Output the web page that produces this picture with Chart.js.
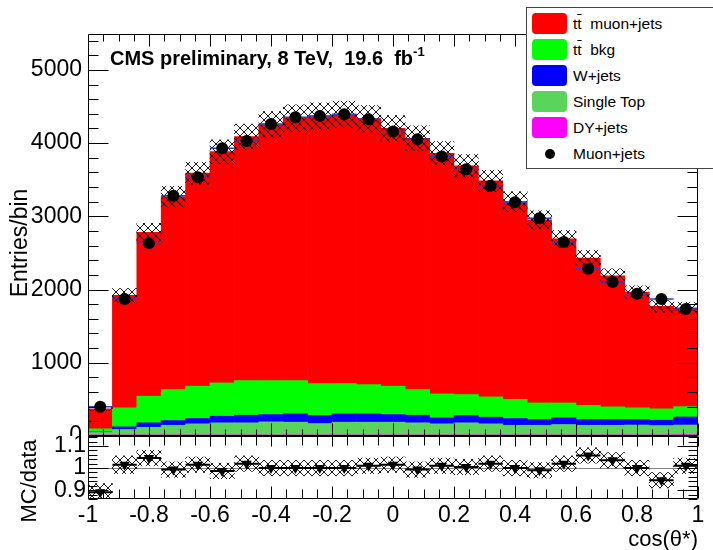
<!DOCTYPE html>
<html>
<head>
  <title>cos(theta*) muon+jets</title>
  <script src="https://cdn.jsdelivr.net/npm/chart.js"></script>
  <style>
    body { margin: 0; background: #fff; font-family: 'Liberation Sans', Arial, sans-serif; }
    #wrap { position: relative; width: 713px; height: 550px; overflow: hidden; background: #fff; }
    canvas { position: absolute; left: 0; }
    #top { top: 0; }
    #bot { top: 436px; background: #fff; }
    .txt { position: absolute; white-space: pre; color: #000; }
    .rot { transform: translate(-50%, -50%) rotate(-90deg); }
    #cms { left: 110px; top: 48px; font: bold 20px/20px 'Liberation Sans', Arial, sans-serif; }
    #cms sup { font-size: 13px; vertical-align: 9px; line-height: 0; }
    #ytitle { left: 19px; top: 243px; font: 23px/23px 'Liberation Sans', Arial, sans-serif; }
    #rtitle { left: 29px; top: 481px; font: 22px/22px 'Liberation Sans', Arial, sans-serif; }
    #xtitle { right: 15px; top: 528px; font: 22px/22px 'Liberation Sans', Arial, sans-serif; }
    #legend { position: absolute; left: 526px; top: 7px; width: 200px; height: 160px; border: 1px solid #444; background: #fff; }
    .row { position: absolute; left: 46px; height: 18px; font: 15.5px/18px 'Liberation Sans', Arial, sans-serif; white-space: pre; }
    .sw { position: absolute; left: -41px; top: -2px; width: 35px; height: 21px; border-radius: 4px; }
    .dot { position: absolute; left: -28px; top: 4px; width: 10px; height: 10px; border-radius: 50%; background: #000; }
    .ov { text-decoration: overline; }
  </style>
</head>
<body>
<div id="wrap">
  <canvas id="top" width="713" height="437"></canvas>
  <canvas id="bot" width="713" height="114"></canvas>
  <div class="txt" id="cms">CMS preliminary, 8 TeV,  19.6  fb<sup>-1</sup></div>
  <div class="txt rot" id="ytitle">Entries/bin</div>
  <div class="txt rot" id="rtitle">MC/data</div>
  <div class="txt" id="xtitle">cos(θ*)</div>
  <div id="legend">
    <div class="row" style="top:7px"><span class="sw" style="background:#ff0000"></span>t<span class="ov">t</span>  muon+jets</div>
    <div class="row" style="top:33px"><span class="sw" style="background:#00ff00"></span>t<span class="ov">t</span>  bkg</div>
    <div class="row" style="top:59px"><span class="sw" style="background:#0000ff"></span>W+jets</div>
    <div class="row" style="top:85px"><span class="sw" style="background:#5bd45b"></span>Single Top</div>
    <div class="row" style="top:111px"><span class="sw" style="background:#ff00ff"></span>DY+jets</div>
    <div class="row" style="top:137px"><span class="dot"></span>Muon+jets</div>
  </div>
</div>
<script>
  // 25 bins in cos(theta*), width 0.08
  const binCenters = [-0.96, -0.88, -0.80, -0.72, -0.64, -0.56, -0.48, -0.40, -0.32, -0.24, -0.16, -0.08, 0.00,
                      0.08, 0.16, 0.24, 0.32, 0.40, 0.48, 0.56, 0.64, 0.72, 0.80, 0.88, 0.96];
  const binWidth = 0.08;

  const ttSignal  = [273, 1535, 2237, 2636, 2909, 3159, 3332, 3500, 3586, 3654, 3677, 3632, 3522, 3432, 3287, 3123, 2950, 2704, 2500, 2241, 2014, 1791, 1581, 1399, 1350];
  const ttBkg     = [43, 260, 363, 423, 441, 455, 473, 464, 455, 436, 414, 400, 387, 350, 327, 286, 277, 259, 227, 204, 191, 173, 160, 155, 141];
  const wJets     = [7, 36, 60, 64, 73, 90, 104, 100, 113, 110, 113, 113, 104, 104, 82, 100, 91, 92, 78, 91, 78, 78, 75, 73, 110];
  const singleTop = [33, 74, 105, 132, 151, 165, 165, 178, 174, 155, 174, 174, 174, 165, 151, 165, 151, 132, 132, 142, 132, 132, 135, 128, 132];
  const dyJets    = [15, 15, 15, 15, 15, 15, 15, 15, 15, 15, 15, 15, 15, 15, 15, 15, 15, 15, 15, 15, 15, 15, 15, 15, 18];

  const dataMuon  = [398, 1871, 2634, 3280, 3534, 3930, 4030, 4261, 4352, 4370, 4393, 4325, 4157, 4052, 3816, 3643, 3416, 3193, 2975, 2648, 2284, 2103, 1943, 1871, 1735];
  const mcTotal   = [371, 1920, 2780, 3270, 3589, 3884, 4089, 4257, 4343, 4370, 4393, 4334, 4202, 4066, 3862, 3689, 3484, 3202, 2952, 2693, 2430, 2189, 1966, 1770, 1748];
  const mcErr     = [20, 95, 125, 140, 150, 160, 170, 175, 180, 180, 180, 180, 175, 170, 160, 155, 145, 135, 125, 115, 105, 95, 85, 80, 80];

  const ratio     = [0.89, 1.015, 1.045, 0.993, 1.015, 0.987, 1.02, 1.0, 1.0, 1.0, 1.0, 1.01, 1.015, 0.993, 1.01, 1.005, 1.02, 1.0, 0.99, 1.02, 1.057, 1.035, 1.0, 0.945, 1.01];
  const ratioErr  = [0.04, 0.04, 0.035, 0.035, 0.035, 0.035, 0.035, 0.035, 0.035, 0.035, 0.035, 0.035, 0.035, 0.035, 0.035, 0.035, 0.035, 0.035, 0.035, 0.035, 0.035, 0.035, 0.035, 0.035, 0.035];

  const yTicks = [0, 1000, 2000, 3000, 4000, 5000];
  const yTickLabels = ['0', '1000', '2000', '3000', '4000', '5000'];
  const rTicks = [0.9, 1, 1.1];
  const rTickLabels = ['0.9', '1', '1.1'];
  const xTicks = [-1, -0.8, -0.6, -0.4, -0.2, 0, 0.2, 0.4, 0.6, 0.8, 1];
  const xTickLabels = ['-1', '-0.8', '-0.6', '-0.4', '-0.2', '0', '0.2', '0.4', '0.6', '0.8', '1'];

  Chart.defaults.font.family = "'Liberation Sans', Arial, sans-serif";
  Chart.defaults.color = '#000';

  function crossPattern(ctx) {
    const c = document.createElement('canvas');
    c.width = 8; c.height = 8;
    const g = c.getContext('2d');
    g.strokeStyle = '#000'; g.lineWidth = 0.9;
    g.beginPath(); g.moveTo(0, 0); g.lineTo(8, 8); g.moveTo(8, 0); g.lineTo(0, 8); g.stroke();
    return ctx.createPattern(c, 'repeat');
  }

  // ROOT style frame with ticks inside on all four sides
  function framePlugin(o) {
    return {
      id: 'frame',
      afterDraw(chart) {
        const {ctx, chartArea: a} = chart;
        const xs = chart.scales.x, ys = chart.scales.y;
        const L = Math.round(a.left) + 0.5, R = Math.round(a.right) - 0.5;
        const T = Math.round(a.top) + 0.5, B = Math.round(a.bottom) - 0.5;
        ctx.save();
        ctx.strokeStyle = '#000'; ctx.lineWidth = 1;
        ctx.beginPath();
        ctx.rect(L, T, R - L, B - T);
        const nx = Math.round((o.x1 - o.x0) / o.xStep);
        for (let k = 0; k <= nx; k++) {
          const v = o.x0 + k * o.xStep;
          const major = Math.abs(v / o.xMajor - Math.round(v / o.xMajor)) < 1e-6;
          const p = Math.round(xs.getPixelForValue(v)) + 0.5;
          ctx.moveTo(p, B); ctx.lineTo(p, B - (major ? o.xLongB : o.xShortB));
          ctx.moveTo(p, T); ctx.lineTo(p, T + (major ? o.xLongT : o.xShortT));
        }
        const ny = Math.round((o.y1 - o.y0) / o.yStep);
        for (let k = 0; k <= ny; k++) {
          const v = o.y0 + k * o.yStep;
          const major = Math.abs(v / o.yMajor - Math.round(v / o.yMajor)) < 1e-6;
          const len = major ? o.yLong : o.yShort;
          const p = Math.round(ys.getPixelForValue(v)) + 0.5;
          ctx.moveTo(L, p); ctx.lineTo(L + len, p);
          ctx.moveTo(R, p); ctx.lineTo(R - len, p);
        }
        ctx.stroke();
        ctx.restore();
      }
    };
  }

  // bin-width horizontal error bars, drawn right after the hatched band
  function binLines(values, color, width, axis) {
    return {
      id: 'binLines',
      afterDatasetDraw(chart, args) {
        if (args.index !== 1) return;
        const {ctx} = chart;
        const xs = chart.scales[axis], ys = chart.scales.y;
        ctx.save();
        ctx.strokeStyle = color; ctx.lineWidth = width;
        ctx.beginPath();
        values.forEach((v, i) => {
          const yp = ys.getPixelForValue(v);
          ctx.moveTo(xs.getPixelForValue(binCenters[i] - binWidth / 2), yp);
          ctx.lineTo(xs.getPixelForValue(binCenters[i] + binWidth / 2), yp);
        });
        ctx.stroke();
        ctx.restore();
      }
    };
  }

  const unityLine = {
    id: 'unity',
    beforeDatasetsDraw(chart) {
      const {ctx} = chart;
      const xs = chart.scales.x, ys = chart.scales.y;
      const yp = Math.round(ys.getPixelForValue(1)) + 0.5;
      ctx.save();
      ctx.strokeStyle = '#808080'; ctx.lineWidth = 1;
      ctx.beginPath();
      ctx.moveTo(xs.getPixelForValue(-1), yp); ctx.lineTo(xs.getPixelForValue(1), yp);
      ctx.stroke();
      ctx.restore();
    }
  };

  const xy = arr => arr.map((v, i) => ({x: binCenters[i], y: v}));
  const band = (c, e) => c.map((v, i) => ({x: binCenters[i], y: [v - e[i], v + e[i]]}));
  const fixAxis = w => s => { s.width = w; s.paddingTop = 0; s.paddingBottom = 0; };

  const topCtx = document.getElementById('top').getContext('2d');
  const botCtx = document.getElementById('bot').getContext('2d');

  const stackBar = (label, arr, color) => ({
    label, data: xy(arr), backgroundColor: color, borderWidth: 0,
    grouped: false, barPercentage: 1, categoryPercentage: 1, order: 2
  });

  new Chart(topCtx, {
    type: 'bar',
    data: {
      datasets: [
        { type: 'scatter', label: 'Muon+jets', data: xy(dataMuon), xAxisID: 'x2',
          pointStyle: 'circle', pointRadius: 6, backgroundColor: '#000', borderWidth: 0, order: 0 },
        { label: 'MC unc.', data: band(mcTotal, mcErr), xAxisID: 'x2', backgroundColor: crossPattern(topCtx),
          borderWidth: 0, grouped: false, barPercentage: 1, categoryPercentage: 1, order: 1 },
        stackBar('DY+jets', dyJets, '#ff00ff'),
        stackBar('Single Top', singleTop, '#5bd45b'),
        stackBar('W+jets', wJets, '#0000ff'),
        stackBar('tt bkg', ttBkg, '#00ff00'),
        stackBar('tt muon+jets', ttSignal, '#ff0000')
      ]
    },
    options: {
      responsive: false,
      animation: false,
      events: [],
      devicePixelRatio: 1,
      layout: { autoPadding: false, padding: { top: 34, right: 15, bottom: 1, left: 0 } },
      plugins: { legend: { display: false }, tooltip: { enabled: false } },
      scales: {
        x: { type: 'linear', min: -1, max: 1, offset: false, stacked: true, display: false,
             afterBuildTicks: s => { s.ticks = xTicks.map(v => ({value: v})); } },
        x2: { type: 'linear', min: -1, max: 1, offset: false, display: false,
             afterBuildTicks: s => { s.ticks = xTicks.map(v => ({value: v})); } },
        y: {
          min: 0, max: 5490, stacked: true,
          afterBuildTicks: s => { s.ticks = yTicks.map(v => ({value: v})); },
          afterFit: fixAxis(88),
          grid: { display: false, drawTicks: false, tickLength: 0 },
          border: { display: false },
          ticks: { padding: 6, color: '#000', autoSkip: false, font: { size: 23 },
                   callback: (v, i) => yTickLabels[i] }
        }
      }
    },
    plugins: [
      binLines(dataMuon, '#2a3fd0', 1.5, 'x2'),
      framePlugin({ x0: -1, x1: 1, xStep: 0.05, xMajor: 0.2, xLongB: 12, xShortB: 6, xLongT: 12, xShortT: 7,
                    y0: 0, y1: 5400, yStep: 200, yMajor: 1000, yLong: 20, yShort: 10 })
    ]
  });

  new Chart(botCtx, {
    type: 'bar',
    data: {
      datasets: [
        { type: 'scatter', label: 'MC/data', data: xy(ratio), pointStyle: 'triangle', rotation: 180,
          pointRadius: 6, backgroundColor: '#000', borderWidth: 0, order: 0 },
        { label: 'ratio unc.', data: band(ratio, ratioErr), backgroundColor: crossPattern(botCtx),
          borderWidth: 0, grouped: false, barPercentage: 1, categoryPercentage: 1, order: 1 }
      ]
    },
    options: {
      responsive: false,
      animation: false,
      events: [],
      devicePixelRatio: 1,
      layout: { autoPadding: false, padding: { top: 0, right: 15, bottom: 0, left: 0 } },
      plugins: { legend: { display: false }, tooltip: { enabled: false } },
      scales: {
        x: {
          type: 'linear', min: -1, max: 1, offset: false,
          afterBuildTicks: s => { s.ticks = xTicks.map(v => ({value: v})); },
          afterFit: s => { s.height = 51; },
          grid: { display: false, drawTicks: false, tickLength: 0 },
          border: { display: false },
          ticks: { padding: 3, color: '#000', autoSkip: false, maxRotation: 0, font: { size: 23 },
                   callback: (v, i) => xTickLabels[i] }
        },
        y: {
          min: 0.86, max: 1.145,
          afterBuildTicks: s => { s.ticks = rTicks.map(v => ({value: v})); },
          afterFit: fixAxis(88),
          grid: { display: false, drawTicks: false, tickLength: 0 },
          border: { display: false },
          ticks: { padding: 2, color: '#000', autoSkip: false, font: { size: 23, lineHeight: 0.5 },
                   callback: (v, i) => rTickLabels[i] }
        }
      }
    },
    plugins: [
      unityLine,
      binLines(ratio, '#000', 2, 'x'),
      framePlugin({ x0: -1, x1: 1, xStep: 0.05, xMajor: 0.2, xLongB: 12, xShortB: 9, xLongT: 10, xShortT: 9,
                    y0: 0.86, y1: 1.14, yStep: 0.02, yMajor: 0.1, yLong: 20, yShort: 9 })
    ]
  });
</script>
</body>
</html>
